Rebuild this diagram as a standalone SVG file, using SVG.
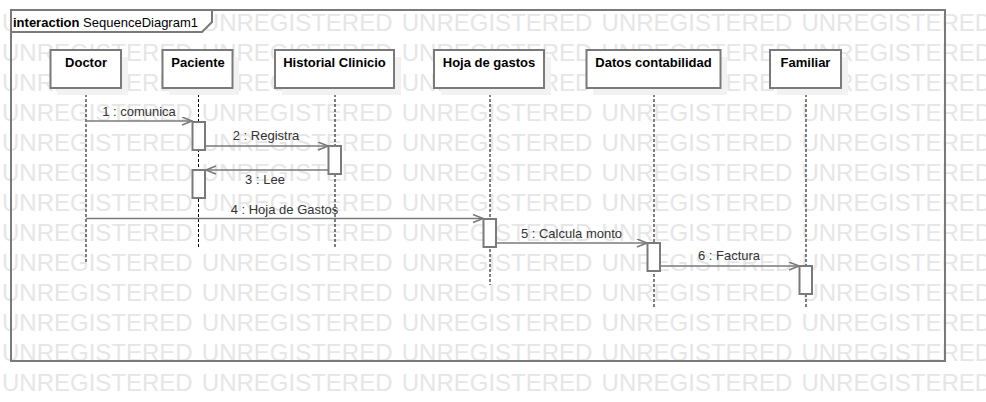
<svg xmlns="http://www.w3.org/2000/svg" width="986" height="402" viewBox="0 0 986 402">
<style>
text{font-family:"Liberation Sans",Arial,sans-serif}
.wm{font-size:24px;fill:#e6e6e6;word-spacing:2.5px}
.frame{fill:none;stroke:#7a7a7a;stroke-width:2}
.tag{fill:#fff;stroke:#7a7a7a;stroke-width:2}
.box{fill:#fff;stroke:#7a7a7a;stroke-width:2}
.shadow{fill:#f2f2f2;stroke:none}
.act{fill:#fff;stroke:#7a7a7a;stroke-width:2}
.life{stroke:#000;stroke-width:1;stroke-dasharray:3,2;fill:none}
.msg{stroke:#7a7a7a;stroke-width:1.5;fill:none;marker-end:url(#open)}
.nl{font-size:13px;font-weight:bold;fill:#000;text-anchor:middle}
.ml{font-size:13px;fill:#333;text-anchor:middle}
</style>
<defs>
<marker id="open" markerUnits="userSpaceOnUse" markerWidth="12" markerHeight="10" refX="11" refY="4.5" orient="auto">
<path d="M1,0.5 L11,4.5 L1,8.5" fill="none" stroke="#7a7a7a" stroke-width="1.5"/>
</marker>
</defs>
<rect width="986" height="402" fill="#fff"/>
<g id="watermark">
<text class="wm" x="2" y="30.7">UNREGISTERED UNREGISTERED UNREGISTERED UNREGISTERED UNREGISTERED</text>
<text class="wm" x="2" y="60.7">UNREGISTERED UNREGISTERED UNREGISTERED UNREGISTERED UNREGISTERED</text>
<text class="wm" x="2" y="90.7">UNREGISTERED UNREGISTERED UNREGISTERED UNREGISTERED UNREGISTERED</text>
<text class="wm" x="2" y="120.7">UNREGISTERED UNREGISTERED UNREGISTERED UNREGISTERED UNREGISTERED</text>
<text class="wm" x="2" y="150.7">UNREGISTERED UNREGISTERED UNREGISTERED UNREGISTERED UNREGISTERED</text>
<text class="wm" x="2" y="180.7">UNREGISTERED UNREGISTERED UNREGISTERED UNREGISTERED UNREGISTERED</text>
<text class="wm" x="2" y="210.7">UNREGISTERED UNREGISTERED UNREGISTERED UNREGISTERED UNREGISTERED</text>
<text class="wm" x="2" y="240.7">UNREGISTERED UNREGISTERED UNREGISTERED UNREGISTERED UNREGISTERED</text>
<text class="wm" x="2" y="270.7">UNREGISTERED UNREGISTERED UNREGISTERED UNREGISTERED UNREGISTERED</text>
<text class="wm" x="2" y="300.7">UNREGISTERED UNREGISTERED UNREGISTERED UNREGISTERED UNREGISTERED</text>
<text class="wm" x="2" y="330.7">UNREGISTERED UNREGISTERED UNREGISTERED UNREGISTERED UNREGISTERED</text>
<text class="wm" x="2" y="360.7">UNREGISTERED UNREGISTERED UNREGISTERED UNREGISTERED UNREGISTERED</text>
<text class="wm" x="2" y="390.7">UNREGISTERED UNREGISTERED UNREGISTERED UNREGISTERED UNREGISTERED</text>
</g>
<g id="frame">
<rect class="frame" x="11" y="10" width="934" height="351"/>
<path class="tag" d="M11,10 L212,10 L212,22 L202,32 L11,32 Z"/>
<text x="13" y="26.5" font-size="13" fill="#000"><tspan font-weight="bold">interaction</tspan> SequenceDiagram1</text>
</g>
<g id="lifelines">
<line class="life" x1="86" y1="89" x2="86" y2="262"/>
<line class="life" x1="198.5" y1="89" x2="198.5" y2="248"/>
<line class="life" x1="335" y1="89" x2="335" y2="248"/>
<line class="life" x1="490" y1="89" x2="490" y2="285"/>
<line class="life" x1="654" y1="89" x2="654" y2="307.5"/>
<line class="life" x1="806" y1="89" x2="806" y2="308"/>
</g>
<g id="node-doctor">
<rect class="shadow" x="57" y="57" width="71" height="38"/>
<rect class="box" x="50.5" y="50" width="70.5" height="38"/>
<text class="nl" x="86" y="67">Doctor</text>
</g>
<g id="node-paciente">
<rect class="shadow" x="169" y="57" width="70" height="38"/>
<rect class="box" x="162.5" y="50" width="70" height="38"/>
<text class="nl" x="198" y="67">Paciente</text>
</g>
<g id="node-historial">
<rect class="shadow" x="282" y="57" width="119" height="38"/>
<rect class="box" x="275" y="50" width="119" height="38"/>
<text class="nl" x="334.5" y="67">Historial Clinicio</text>
</g>
<g id="node-hoja">
<rect class="shadow" x="441" y="57" width="110" height="38"/>
<rect class="box" x="434" y="50" width="110" height="38"/>
<text class="nl" x="489" y="67">Hoja de gastos</text>
</g>
<g id="node-datos">
<rect class="shadow" x="593" y="57" width="134" height="38"/>
<rect class="box" x="586.5" y="50" width="134" height="38"/>
<text class="nl" x="653.5" y="67">Datos contabilidad</text>
</g>
<g id="node-familiar">
<rect class="shadow" x="777" y="57" width="71" height="38"/>
<rect class="box" x="770" y="50" width="71" height="38"/>
<text class="nl" x="805.5" y="67">Familiar</text>
</g>
<g id="activations">
<rect class="act" x="192.5" y="122" width="12.5" height="28"/>
<rect class="act" x="192.5" y="170" width="12.5" height="28"/>
<rect class="act" x="328.5" y="146" width="12.5" height="28"/>
<rect class="act" x="483.5" y="219" width="12.5" height="28"/>
<rect class="act" x="647.5" y="243" width="12.5" height="28"/>
<rect class="act" x="799.5" y="266" width="12.5" height="28"/>
</g>
<g id="connectors">
<line class="msg" x1="86" y1="121" x2="192" y2="121"/>
<line class="msg" x1="206" y1="146" x2="328" y2="146"/>
<line class="msg" x1="328" y1="170" x2="206" y2="170"/>
<line class="msg" x1="86" y1="218.5" x2="483" y2="218.5"/>
<line class="msg" x1="497" y1="243" x2="647" y2="243"/>
<line class="msg" x1="661" y1="266" x2="799" y2="266"/>
<text class="ml" x="139" y="115.5">1 : comunica</text>
<text class="ml" x="266" y="139.5">2 : Registra</text>
<text class="ml" x="265" y="184">3 : Lee</text>
<text class="ml" x="284.5" y="213.5">4 : Hoja de Gastos</text>
<text class="ml" x="571.5" y="237.5">5 : Calcula monto</text>
<text class="ml" x="729" y="260">6 : Factura</text>
</g>
</svg>
